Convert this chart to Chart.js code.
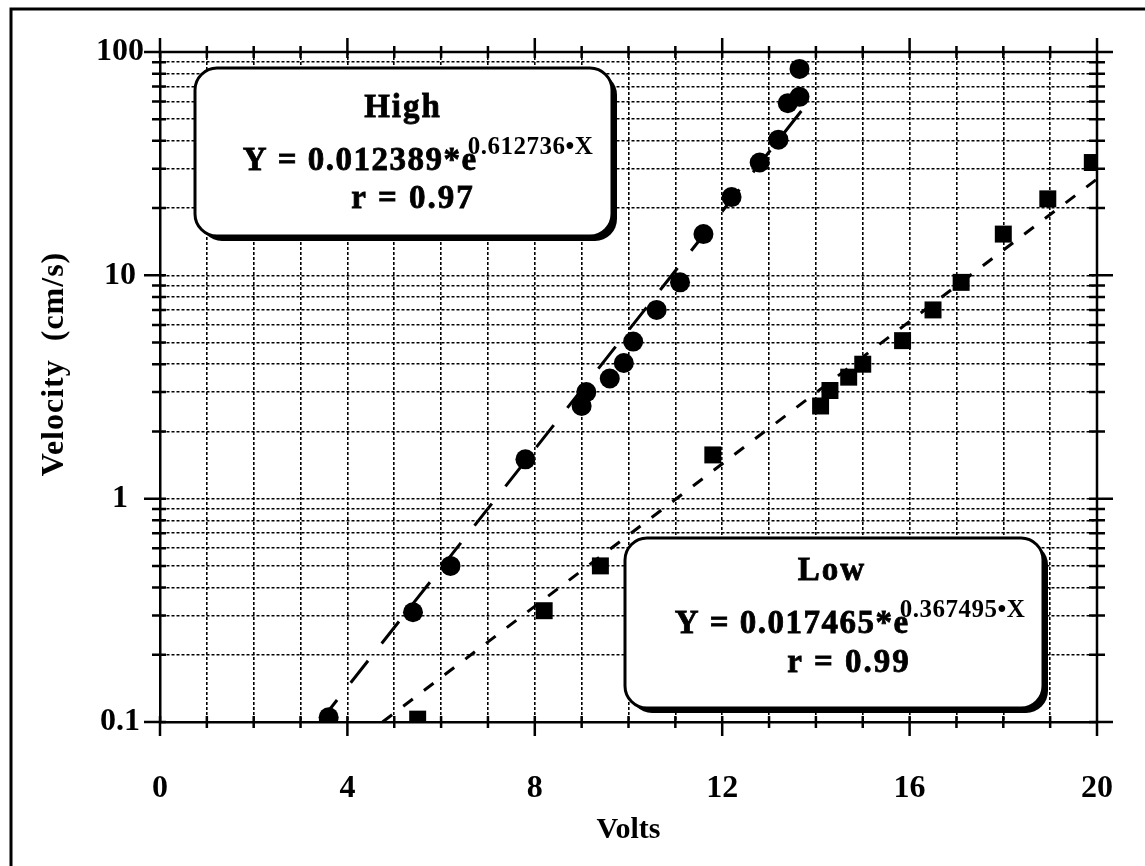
<!DOCTYPE html>
<html>
<head>
<meta charset="utf-8">
<script src="https://cdn.jsdelivr.net/npm/chart.js@4.4.1/dist/chart.umd.min.js"></script>
<style>
  body { margin: 0; background: #fff; }
  canvas { display: block; }
</style>
</head>
<body>
<canvas id="myChart" width="1145" height="866"></canvas>
<script>
const ctx = document.getElementById('myChart');

// High (circles)
const highVolts = [3.6, 5.4, 6.2, 7.8, 9.0, 9.1, 9.6, 9.9, 10.1, 10.6, 11.1, 11.6, 12.2, 12.8, 13.2, 13.4, 13.65, 13.65];
const highVel = [0.105, 0.31, 0.5, 1.5, 2.6, 3.0, 3.45, 4.05, 5.05, 7.0, 9.3, 15.3, 22.4, 32, 40.5, 59, 63, 84];

// Low (squares)
const lowVolts = [5.5, 8.2, 9.4, 11.8, 14.1, 14.3, 14.7, 15.0, 15.85, 16.5, 17.1, 18.0, 18.95, 19.9];
const lowVel = [0.103, 0.315, 0.5, 1.57, 2.6, 3.05, 3.5, 4.0, 5.1, 7.0, 9.3, 15.3, 22, 32];

// fitted lines, ends only (straight on a log axis)
const highFitVolts = [3.41, 13.7];
const highFitVel = [0.1, 54.8];
const lowFitVolts = [4.75, 20];
const lowFitVel = [0.1, 27];

// axes
const yGridValues = [0.1, 0.2, 0.3, 0.4, 0.5, 0.6, 0.7, 0.8, 0.9,
                     1, 2, 3, 4, 5, 6, 7, 8, 9,
                     10, 20, 30, 40, 50, 60, 70, 80, 90, 100];
const yLabelValues = [0.1, 1, 10, 100];
const yLabelText = ['0.1', '1', '10', '100'];
const xLabelValues = [0, 4, 8, 12, 16, 20];

function toPoints(xs, ys) {
    var pts = [];
    for (var i = 0; i < xs.length; i++) {
        pts.push({ x: xs[i], y: ys[i] });
    }
    return pts;
}

const FONT = "'Liberation Serif', 'DejaVu Serif', serif";
Chart.defaults.font.family = FONT;
Chart.defaults.color = '#000';

function drawBox(c, x, y, w, h) {
    c.save();
    c.fillStyle = '#000';
    c.beginPath();
    c.roundRect(x + 5, y + 5, w, h, 22);
    c.fill();
    c.fillStyle = '#fff';
    c.strokeStyle = '#000';
    c.lineWidth = 3;
    c.beginPath();
    c.roundRect(x, y, w, h, 22);
    c.fill();
    c.stroke();
    c.restore();
}

function drawCenter(c, text, cx, base, size) {
    c.save();
    c.font = 'bold ' + size + 'px ' + FONT;
    c.letterSpacing = '2px';
    c.fillStyle = '#000';
    c.strokeStyle = '#000';
    c.lineWidth = 0.8;
    c.textAlign = 'center';
    c.textBaseline = 'alphabetic';
    c.fillText(text, cx, base);
    c.strokeText(text, cx, base);
    c.restore();
}

function drawEq(c, main, sup, cx, base) {
    c.save();
    c.fillStyle = '#000';
    c.strokeStyle = '#000';
    c.lineWidth = 0.8;
    c.textBaseline = 'alphabetic';
    c.textAlign = 'left';
    c.letterSpacing = '1.5px';
    c.font = 'bold 33px ' + FONT;
    var wm = c.measureText(main).width;
    c.letterSpacing = '0.5px';
    c.font = 'bold 25px ' + FONT;
    var ws = c.measureText(sup).width;
    var x0 = cx - (wm + ws - 10) / 2;
    c.letterSpacing = '1.5px';
    c.font = 'bold 33px ' + FONT;
    c.fillText(main, x0, base);
    c.strokeText(main, x0, base);
    c.letterSpacing = '0.5px';
    c.font = 'bold 25px ' + FONT;
    c.fillText(sup, x0 + wm - 10, base - 16);
    c.restore();
}

const decorations = {
    id: 'decorations',
    afterDatasetsDraw(chart) {
        const c = chart.ctx;
        drawBox(c, 195, 68, 417, 168);
        drawCenter(c, 'High', 403, 117, 33);
        drawEq(c, 'Y = 0.012389*e', '0.612736\u2022X', 418, 170);
        drawCenter(c, 'r = 0.97', 413, 208, 33);

        drawBox(c, 625, 538, 418, 170);
        drawCenter(c, 'Low', 832, 580, 33);
        drawEq(c, 'Y = 0.017465*e', '0.367495\u2022X', 850, 633);
        drawCenter(c, 'r = 0.99', 849, 672, 33);
    },
    afterDraw(chart) {
        const c = chart.ctx;
        const a = chart.chartArea;
        const xs = chart.scales.x;
        const ys = chart.scales.y;
        c.save();
        c.strokeStyle = '#000';
        c.lineWidth = 2.5;
        c.beginPath();
        // top and right axis lines
        c.moveTo(a.left, a.top); c.lineTo(a.right, a.top);
        c.moveTo(a.right, a.top); c.lineTo(a.right, a.bottom);
        // x ticks, every volt
        for (var k = 0; k <= 20; k++) {
            var px = xs.getPixelForValue(k);
            var big = xLabelValues.indexOf(k) >= 0;
            c.moveTo(px, a.bottom - 6); c.lineTo(px, a.bottom + (big ? 14 : 6));
            c.moveTo(px, a.top + 6); c.lineTo(px, a.top - (big ? 14 : 6));
        }
        // y ticks, every grid line
        for (var i = 0; i < yGridValues.length; i++) {
            var py = ys.getPixelForValue(yGridValues[i]);
            var major = yLabelValues.indexOf(yGridValues[i]) >= 0;
            c.moveTo(a.left + 6, py); c.lineTo(a.left - (major ? 16 : 8), py);
            c.moveTo(a.right - 8, py); c.lineTo(a.right + (major ? 16 : 8), py);
        }
        c.stroke();
        // page frame
        c.lineWidth = 3;
        c.beginPath();
        c.moveTo(11, 866); c.lineTo(11, 9); c.lineTo(1145, 9);
        c.stroke();
        // y title
        c.translate(55, 364);
        c.rotate(-Math.PI / 2);
        c.font = 'bold 32px ' + FONT;
        c.textAlign = 'center';
        c.textBaseline = 'middle';
        c.fillStyle = '#000';
        c.letterSpacing = '1px';
        c.fillText('Velocity  (cm/s)', 0, 0);
        c.restore();
    }
};

new Chart(ctx, {
    type: 'scatter',
    data: {
        datasets: [{
            label: 'High',
            data: toPoints(highVolts, highVel),
            pointStyle: 'circle',
            pointRadius: 10,
            backgroundColor: '#000',
            borderColor: '#000',
            borderWidth: 0
        }, {
            label: 'Low',
            data: toPoints(lowVolts, lowVel),
            pointStyle: 'rect',
            pointRadius: 12,
            backgroundColor: '#000',
            borderColor: '#000',
            borderWidth: 0
        }, {
            label: 'High fit',
            data: toPoints(highFitVolts, highFitVel),
            showLine: true,
            pointRadius: 0,
            borderColor: '#000',
            borderWidth: 3,
            borderDash: [28, 22]
        }, {
            label: 'Low fit',
            data: toPoints(lowFitVolts, lowFitVel),
            showLine: true,
            pointRadius: 0,
            borderColor: '#000',
            borderWidth: 3,
            borderDash: [12, 14]
        }]
    },
    options: {
        responsive: false,
        animation: false,
        layout: { padding: { top: 52, right: 48, left: 0, bottom: 0 } },
        plugins: {
            legend: { display: false },
            tooltip: { enabled: false }
        },
        scales: {
            x: {
                type: 'linear',
                min: 0,
                max: 20,
                afterFit: function (scale) { scale.height = 144; },
                ticks: {
                    stepSize: 1,
                    autoSkip: false,
                    maxRotation: 0,
                    padding: 4,
                    font: { size: 32, weight: 'bold' },
                    callback: function (v) { return xLabelValues.indexOf(v) >= 0 ? String(v) : ''; }
                },
                // invisible tick marks, only used to push the labels down
                grid: { color: '#000', lineWidth: 1.6, drawTicks: true, tickLength: 44, tickWidth: 0, tickColor: 'rgba(0,0,0,0)' },
                border: { display: true, color: '#000', width: 2.5, dash: [3, 2] },
                title: {
                    display: true,
                    text: 'Volts',
                    font: { size: 30, weight: 'bold' },
                    padding: { top: 0, bottom: 18 }
                }
            },
            y: {
                type: 'logarithmic',
                min: 0.1,
                max: 100,
                afterFit: function (scale) { scale.width = 160; },
                afterBuildTicks: function (scale) {
                    scale.ticks = yGridValues.map(function (v) { return { value: v }; });
                },
                ticks: {
                    autoSkip: false,
                    padding: 16,
                    crossAlign: 'center',
                    font: { size: 32, weight: 'bold' },
                    callback: function (v) {
                        var i = yLabelValues.indexOf(v);
                        return i >= 0 ? yLabelText[i] : '';
                    }
                },
                grid: { color: '#000', lineWidth: 1.6, drawTicks: false },
                border: { display: true, color: '#000', width: 2.5, dash: [3, 2] }
            }
        }
    },
    plugins: [decorations]
});
</script>
</body>
</html>
